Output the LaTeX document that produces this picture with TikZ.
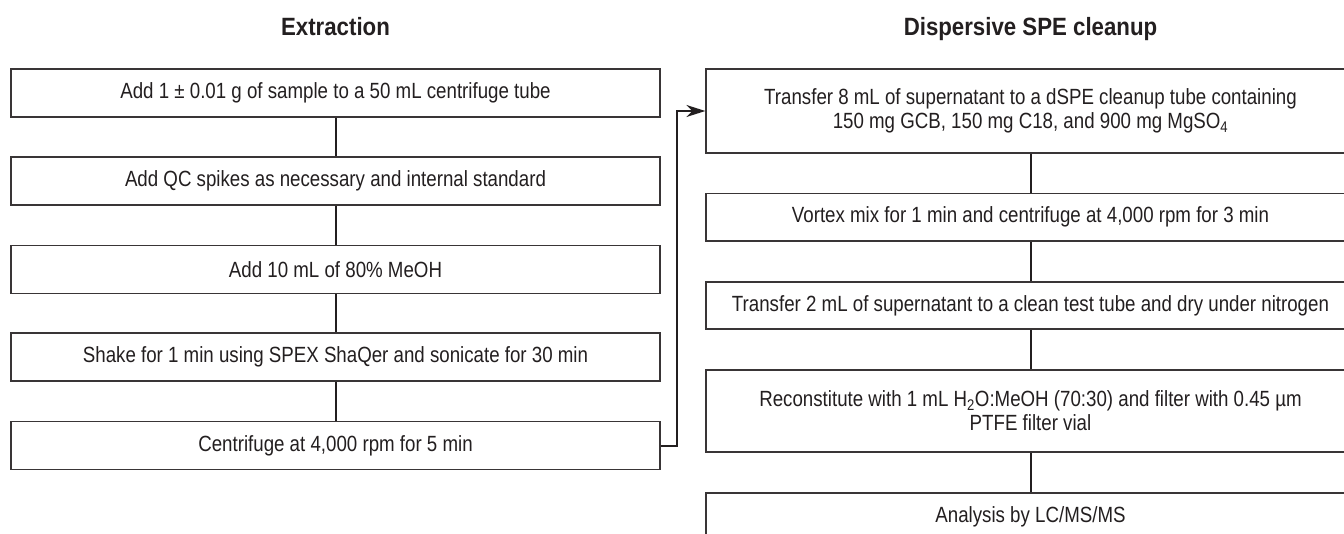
\documentclass[tikz,border=0pt]{standalone}
\usepackage{fontspec}
\setmainfont{Liberation Sans}
\newfontfamily\bodyfam{Liberation Sans}[FakeStretch=0.85]
\newfontfamily\headfam{Liberation Sans}[FakeStretch=0.89]
\usetikzlibrary{arrows.meta}
\definecolor{ink}{HTML}{231F20}
\tikzset{
  box/.style={draw=ink!90, line width=1.3pt, inner sep=0pt, minimum width=649pt,
    align=center, font=\bodyfam\fontsize{22}{24}\selectfont, text=ink},
  head/.style={font=\headfam\bfseries\fontsize{25}{30}\selectfont, text=ink, inner sep=0pt, anchor=base},
  link/.style={line width=2pt, draw=ink},
}
\begin{document}
\begin{tikzpicture}[x=1pt,y=-1pt]
\useasboundingbox (0,0) rectangle (1344,533);
\fill[white] (0,0) rectangle (1344,533);
\begin{scope}
\clip (0,0) rectangle (1344,533);
\node[head] (h1) at (335.5,35) {Extraction};
\node[head] (h2) at (1030.5,35) {Dispersive SPE cleanup};

\node[box, minimum height=48pt] (e1) at (335.5,93) {Add 1 ± 0.01 g of sample to a 50 mL centrifuge tube};
\node[box, minimum height=48pt] (e2) at (335.5,181) {Add QC spikes as necessary and internal standard};
\node[box, minimum height=48pt] (e3) at (335.5,269.5) {Add 10 mL of 80\% MeOH};
\node[box, minimum height=48pt] (e4) at (335.5,357) {Shake for 1 min using SPEX ShaQer and sonicate for 30 min};
\node[box, minimum height=48pt] (e5) at (335.5,445.5) {Centrifuge at 4,000 rpm for 5 min};

\node[box, minimum height=84pt] (d1) at (1030.5,111) {Transfer 8 mL of supernatant to a dSPE cleanup tube containing\\150 mg GCB, 150 mg C18, and 900 mg MgSO\textsubscript{4}};
\node[box, minimum height=47.5pt] (d2) at (1030.5,217.25) {Vortex mix for 1 min and centrifuge at 4,000 rpm for 3 min};
\node[box, minimum height=47pt] (d3) at (1030.5,305.5) {Transfer 2 mL of supernatant to a clean test tube and dry under nitrogen};
\node[box, minimum height=82pt] (d4) at (1030.5,411) {Reconstitute with 1 mL H\textsubscript{2}O:MeOH (70:30) and filter with 0.45 µm\\PTFE filter vial};
\node[box, minimum height=48pt] (d5) at (1030.5,517) {Analysis by LC/MS/MS};

\draw[link] (e1) -- (e2);
\draw[link] (e2) -- (e3);
\draw[link] (e3) -- (e4);
\draw[link] (e4) -- (e5);
\draw[link] (d1) -- (d2);
\draw[link] (d2) -- (d3);
\draw[link] (d3) -- (d4);
\draw[link] (d4) -- (d5);
\coordinate (bend) at (677,445.5);
\draw[link, -{Stealth[length=19pt,width=12pt,inset=6pt]}] (e5.east) -- (bend) |- (d1.west);
\end{scope}
\end{tikzpicture}
\end{document}
